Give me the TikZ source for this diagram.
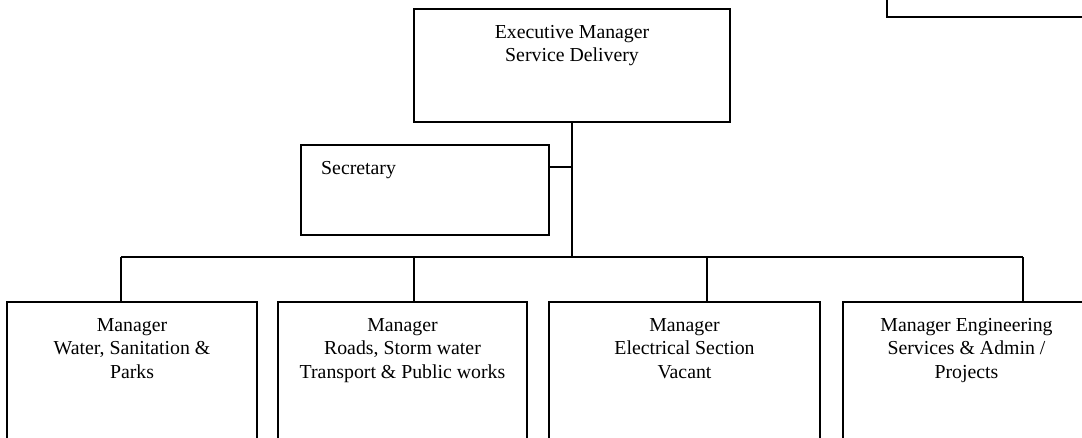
\documentclass[tikz,border=0pt]{standalone}
\usepackage{fontspec}
\setmainfont{Liberation Serif}
\begin{document}
\begin{tikzpicture}[x=1pt,y=-1pt,
  box/.style={draw, line width=1.6pt, rectangle, inner sep=0pt},
  lbl/.style={font=\fontsize{19.8}{23.5}\selectfont, align=center, inner sep=0pt, anchor=north},
  link/.style={line width=1.6pt}]
\useasboundingbox (0,0) rectangle (1082,437);
\clip (0,0) rectangle (1082,437);

% boxes
\node[box, minimum width=213pt, minimum height=37pt] (top) at (993.5,-1.5) {};
\node[box, minimum width=316pt, minimum height=113pt] (exec) at (572,65.5) {};
\node[box, minimum width=248pt, minimum height=90pt] (sec) at (425,190) {};
\node[box, minimum width=250pt, minimum height=168pt] (b1) at (132,386) {};
\node[box, minimum width=249pt, minimum height=168pt] (b2) at (402.5,386) {};
\node[box, minimum width=271pt, minimum height=168pt] (b3) at (684.5,386) {};
\node[box, minimum width=247pt, minimum height=168pt] (b4) at (966.5,386) {};

% labels
\node[lbl] (texec) at (572,25) {Executive Manager\\Service Delivery};
\node[lbl, anchor=north west] (tsec) at (321,161) {Secretary};
\node[lbl] (tb1) at (132,318) {Manager\\Water, Sanitation \&\\Parks};
\node[lbl] (tb2) at (402.5,318) {Manager\\Roads, Storm water\\Transport \& Public works};
\node[lbl] (tb3) at (684.5,318) {Manager\\Electrical Section\\Vacant};
\node[lbl] (tb4) at (966.5,318) {Manager Engineering\\Services \& Admin /\\Projects};

% connectors
\coordinate (hub) at (572,257);
\coordinate (secjoin) at (572,167);
\coordinate (d1) at (121,257);
\coordinate (d2) at (414,257);
\coordinate (d3) at (707,257);
\coordinate (d4) at (1023,257);
\draw[link] (exec.south) -- (hub);
\draw[link] (secjoin) -- (secjoin -| sec.east);
\draw[link] (d1) -- (d4);
\draw[link] (d1) -- (d1 |- b1.north);
\draw[link] (d2) -- (d2 |- b2.north);
\draw[link] (d3) -- (d3 |- b3.north);
\draw[link] (d4) -- (d4 |- b4.north);
\end{tikzpicture}
\end{document}
